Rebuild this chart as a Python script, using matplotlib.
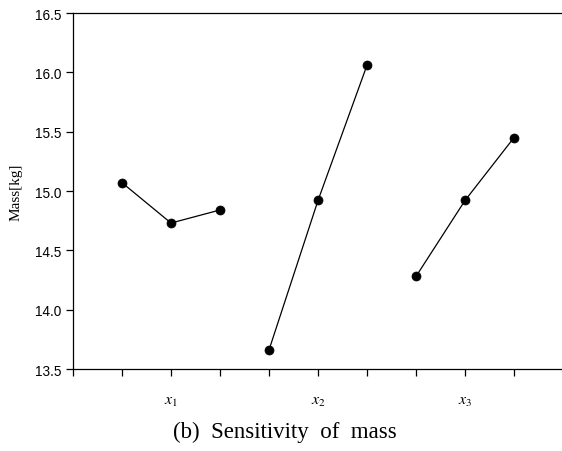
import matplotlib
matplotlib.use("Agg")
import matplotlib.pyplot as plt

# levels of each design variable (three per factor)
factors = ["x1", "x2", "x3"]
factor_labels = [r"$\mathit{x}_{\mathit{1}}$", r"$\mathit{x}_{\mathit{2}}$", r"$\mathit{x}_{\mathit{3}}$"]
mass_x1 = [15.07, 14.73, 14.84]
mass_x2 = [13.66, 14.92, 16.06]
mass_x3 = [14.28, 14.92, 15.45]
yticks = [13.5, 14.0, 14.5, 15.0, 15.5, 16.0, 16.5]

fig = plt.figure(figsize=(5.62, 4.52), dpi=100)
ax = fig.add_axes([73 / 562, 1 - 370 / 452, 490 / 562, 356 / 452])

for i, ys in enumerate([mass_x1, mass_x2, mass_x3]):
    xs = [3 * i + 1, 3 * i + 2, 3 * i + 3]
    ax.plot(xs, ys, color="black", lw=0.9, marker="o", ms=6.5, mew=0.5,
            mec="black", mfc="black")

ax.set_xlim(0, 10)
ax.set_ylim(13.5, 16.5)
ax.set_xticks(range(0, 10))
ax.set_xticklabels([])
ax.set_yticks(yticks)
ax.set_yticklabels([f"{v:.1f}" for v in yticks], family="Liberation Sans", fontsize=9.8)
ax.tick_params(direction="out", length=5, width=0.9, color="black")
ax.spines["right"].set_visible(False)
for s in ["left", "bottom", "top"]:
    ax.spines[s].set_linewidth(0.9)

# factor labels under the middle level of each group
for i, lab in enumerate(factor_labels):
    ax.text(3 * i + 2, 13.5 - 32 / 118.7, lab, ha="center", va="center",
            fontsize=11.5, math_fontfamily="stix")

ax.set_ylabel("Mass[kg]", family="Liberation Serif", fontsize=11, labelpad=9)

fig.text(285 / 562, 1 - 432 / 452, "(b)  Sensitivity  of  mass", ha="center", va="center",
         family="Liberation Serif", fontsize=16.5)

fig.savefig("out.png", dpi=100)
